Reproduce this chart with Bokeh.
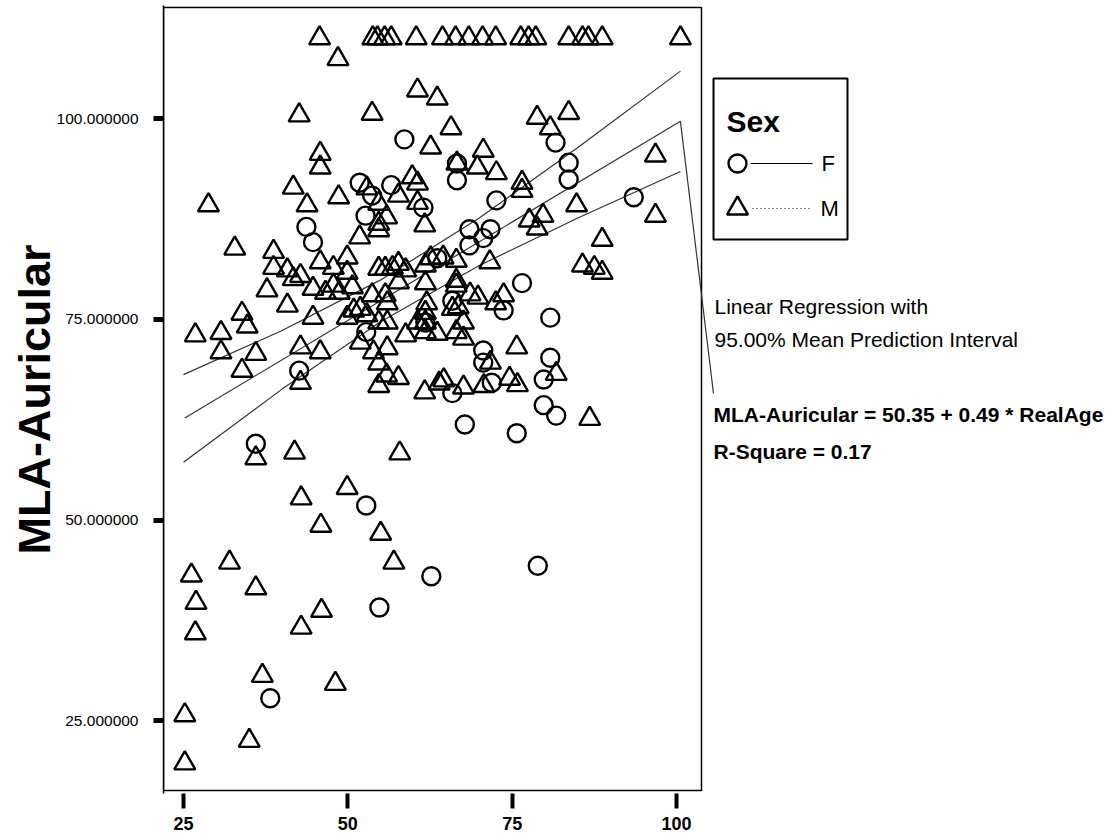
from bokeh.plotting import figure
from bokeh.models import Range1d, FixedTicker, PrintfTickFormatter, Label
from bokeh.embed import file_html
from bokeh.resources import INLINE

# ---------------- data ----------------
age_m = [45.7, 53.8, 54.5, 55.6, 56.6, 60.4, 64.4, 66.4, 68.4, 70.5, 72.5, 76.3, 77.5, 78.6, 83.6, 85.7, 86.6, 88.7, 100.6,
         48.5, 60.6, 42.6, 53.7, 62.6, 45.8, 45.8, 41.7, 52.9, 57.7, 59.8, 60.6, 48.6, 28.8, 43.8, 54.7, 55.9, 54.7, 54.7,
         60.6, 61.7, 51.8, 32.8, 38.7, 38.7, 40.8, 42.8, 41.7, 45.8, 47.8, 49.9, 49.9, 54.7, 55.7, 56.8, 57.7, 58.8, 57.7,
         44.7, 46.6, 47.8, 48.7, 50.7, 53.7, 55.7, 56.0, 61.8, 62.6, 61.8, 62.0, 61.8, 61.8, 60.6, 61.8, 63.6, 44.7, 49.9,
         50.9, 51.9, 52.9, 54.7, 56.0, 58.8, 51.9, 53.9, 56.0, 54.7, 55.9, 57.7, 54.7, 61.7, 63.9, 42.8, 45.8, 42.8, 37.7,
         40.8, 33.9, 34.7, 26.8, 30.7, 30.7, 36.0, 33.9, 36.0, 41.9, 57.9, 49.9, 42.9, 45.9, 55.0, 32.0, 26.2, 57.0, 36.0,
         26.9, 46.0, 42.9, 26.8, 37.0, 48.1, 25.2, 35.0, 25.2, 63.6, 65.7, 78.8, 83.6, 80.8, 70.6, 66.6, 69.7, 72.6, 76.5,
         76.5, 96.8, 84.8, 96.8, 88.7, 77.6, 79.7, 78.8, 71.6, 64.5, 66.5, 85.7, 87.5, 88.7, 66.5, 66.5, 68.6, 69.8, 65.9,
         66.8, 72.5, 73.7, 67.6, 66.5, 67.6, 75.7, 71.7, 81.7, 64.6, 67.6, 70.7, 74.6, 75.8, 86.8]
mla_m = [110.0, 110.0, 110.0, 110.0, 110.0, 110.0, 110.0, 110.0, 110.0, 110.0, 110.0, 110.0, 110.0, 110.0, 110.0, 110.0,
         110.0, 110.0, 110.0,
         107.4, 103.5, 100.4, 100.6, 96.4, 95.6, 93.9, 91.4, 91.3, 90.4, 92.7, 91.9, 90.2, 89.2, 89.2, 89.4, 87.7, 86.9, 86.1,
         89.5, 86.7, 85.2, 83.8, 83.4, 81.4, 81.1, 80.4, 80.0, 82.1, 81.4, 82.7, 80.8, 81.3, 81.3, 81.4, 81.9, 81.1, 79.6,
         78.8, 78.3, 79.2, 78.3, 79.0, 78.0, 78.0, 77.0, 81.7, 82.6, 79.5, 77.0, 75.8, 74.6, 74.6, 73.4, 73.2, 75.2, 75.2,
         76.1, 76.3, 75.5, 74.6, 74.6, 73.0, 72.1, 70.9, 71.4, 69.5, 68.0, 67.7, 66.7, 65.9, 67.0, 71.5, 70.9, 67.1, 78.6,
         76.7, 75.7, 74.1, 73.0, 73.3, 70.9, 70.7, 68.6, 57.7, 58.4, 58.3, 54.0, 52.7, 49.3, 48.3, 44.7, 43.1, 44.7, 41.5,
         39.7, 38.7, 36.6, 35.9, 30.6, 29.6, 25.7, 22.5, 19.7, 102.5, 98.8, 100.1, 100.7, 98.8, 96.0, 94.4, 93.9, 93.2, 92.0,
         91.0, 95.4, 89.2, 87.9, 84.9, 87.3, 87.9, 86.3, 82.1, 82.7, 82.3, 81.7, 81.4, 80.8, 79.8, 79.2, 78.1, 77.7, 76.3,
         76.5, 77.0, 78.0, 74.6, 73.4, 72.6, 71.5, 69.6, 68.2, 67.4, 66.5, 66.7, 67.6, 66.8, 62.6]

age_f = [58.6, 51.8, 53.7, 56.6, 52.7, 61.5, 43.7, 44.7, 63.6, 61.8, 52.8, 42.6, 36.0, 52.8, 62.7, 78.9, 54.8, 38.2,
         81.6, 66.6, 66.6, 72.6, 83.6, 83.6, 93.5, 68.5, 68.5, 70.6, 71.7, 76.5, 65.9, 73.7, 80.8, 70.6, 70.6, 80.8,
         79.8, 65.9, 71.9, 79.8, 81.7, 67.8, 75.7]
mla_f = [97.4, 92.0, 90.4, 91.7, 87.9, 88.9, 86.5, 84.6, 82.6, 74.6, 73.4, 68.6, 59.5, 51.8, 43.0, 44.3, 39.1, 27.8,
         97.0, 94.4, 92.3, 89.8, 94.5, 92.4, 90.2, 86.2, 84.2, 85.1, 86.2, 79.5, 77.3, 76.1, 75.2, 71.1, 69.6, 70.2,
         67.5, 65.8, 67.1, 64.3, 63.0, 61.9, 60.8]

intercept = 50.35
slope = 0.49
r_square = 0.17

band_age = [25, 40, 55, 70, 85, 100.6]
band_upper = [68.1, 73.6, 79.9, 87.6, 96.4, 105.9]
band_lower = [57.2, 66.3, 74.7, 81.7, 87.6, 93.4]

x_ticks = [25, 50, 75, 100]
y_ticks = [25, 50, 75, 100]

# ---------------- layout ----------------
W, H = 1116, 840
B_LEFT, B_TOP, B_BOTTOM = 163, 5, 47
PX_YEAR = 6.573   # pixels per year
PX_UNIT = 8.03    # pixels per MLA unit


def X(px):
    return 25 + (px - 183) / PX_YEAR


def Y(py):
    return 100 - (py - 118) / PX_UNIT


x0, x1 = X(B_LEFT), X(W)
y1, y0 = Y(B_TOP), Y(H - B_BOTTOM)

FONT = "Liberation Sans"

p = figure(width=W, height=H, x_range=Range1d(x0, x1), y_range=Range1d(y0, y1),
           output_backend="svg", toolbar_location=None,
           min_border_left=B_LEFT, min_border_right=0, min_border_top=B_TOP, min_border_bottom=B_BOTTOM)
p.outline_line_color = None
p.grid.visible = False
p.background_fill_color = "white"
p.border_fill_color = "white"

# x axis
p.xaxis.ticker = FixedTicker(ticks=x_ticks)
p.xaxis.formatter = PrintfTickFormatter(format="%d")
p.xaxis.axis_line_color = None
p.xaxis.major_tick_in = 0
p.xaxis.major_tick_out = 15
p.xaxis.major_tick_line_width = 4
p.xaxis.minor_tick_line_color = None
p.xaxis.major_label_standoff = 8
p.xaxis.major_label_text_font = FONT
p.xaxis.major_label_text_font_style = "bold"
p.xaxis.major_label_text_font_size = "18px"
p.xaxis.major_label_text_color = "black"

# y axis
p.yaxis.ticker = FixedTicker(ticks=y_ticks)
p.yaxis.formatter = PrintfTickFormatter(format="%.6f")
p.yaxis.axis_line_color = "black"
p.yaxis.axis_line_width = 1.5
p.yaxis.major_tick_in = 0
p.yaxis.major_tick_out = 10
p.yaxis.major_tick_line_width = 5
p.yaxis.minor_tick_line_color = None
p.yaxis.major_label_standoff = 15
p.yaxis.major_label_text_font = FONT
p.yaxis.major_label_text_font_size = "15.5px"
p.yaxis.major_label_text_color = "black"
p.yaxis.axis_label = "MLA-Auricular"
p.yaxis.axis_label_text_font = FONT
p.yaxis.axis_label_text_font_style = "bold"
p.yaxis.axis_label_text_font_size = "45px"
p.yaxis.axis_label_text_color = "black"
p.yaxis.axis_label_standoff = -6

# plot frame
p.quad(left=[x0], right=[X(701)], bottom=[Y(790)], top=[Y(7)],
       fill_color=None, line_color="black", line_width=1.5)

# regression line and bands
all_age = age_m + age_f
a_min, a_max = min(all_age), max(all_age)
fit_x = [a_min, a_max]
fit_y = [intercept + slope * a for a in fit_x]
p.line(fit_x, fit_y, line_color="#333333", line_width=1.2)
p.line(band_age, band_upper, line_color="#333333", line_width=1.2)
p.line(band_age, band_lower, line_color="#333333", line_width=1.2)
# leader to annotation
p.line([a_max, X(713)], [fit_y[1], Y(393)], line_color="#333333", line_width=1.2)

# points
p.scatter(age_m, mla_m, marker="triangle", size=21, fill_color=None, line_color="black", line_width=2.4)
p.scatter(age_f, mla_f, marker="circle", size=18, fill_color=None, line_color="black", line_width=2.4)

# legend box
p.quad(left=[X(713)], right=[X(847)], bottom=[Y(239)], top=[Y(78)],
       fill_color="white", line_color="black", line_width=2)
p.add_layout(Label(x=X(726), y=Y(121), text="Sex", text_font=FONT, text_font_style="bold",
                   text_font_size="30px", text_baseline="middle", text_color="black"))
p.scatter([X(737)], [Y(163)], marker="circle", size=18, fill_color=None, line_color="black", line_width=2.4)
p.line([X(750), X(812)], [Y(163), Y(163)], line_color="black", line_width=1.2)
p.add_layout(Label(x=X(821), y=Y(163), text="F", text_font=FONT,
                   text_font_size="22px", text_baseline="middle", text_color="black"))
p.scatter([X(737)], [Y(208)], marker="triangle", size=21, fill_color=None, line_color="black", line_width=2.4)
p.line([X(752), X(812)], [Y(208), Y(208)], line_color="black", line_width=1.2, line_dash="1 3")
p.add_layout(Label(x=X(820), y=Y(208), text="M", text_font=FONT,
                   text_font_size="22px", text_baseline="middle", text_color="black"))

# annotation texts
p.add_layout(Label(x=X(714), y=Y(306), text="Linear Regression with", text_font=FONT,
                   text_font_size="21px", text_baseline="middle", text_color="black"))
p.add_layout(Label(x=X(714), y=Y(339), text="95.00% Mean Prediction Interval", text_font=FONT,
                   text_font_size="21px", text_baseline="middle", text_color="black"))
p.add_layout(Label(x=X(713), y=Y(414), text="MLA-Auricular = %.2f + %.2f * RealAge" % (intercept, slope),
                   text_font=FONT, text_font_style="bold",
                   text_font_size="21px", text_baseline="middle", text_color="black"))
p.add_layout(Label(x=X(713), y=Y(451), text="R-Square = %.2f" % r_square,
                   text_font=FONT, text_font_style="bold",
                   text_font_size="21px", text_baseline="middle", text_color="black"))

open("out.html", "w").write(file_html(p, INLINE))
